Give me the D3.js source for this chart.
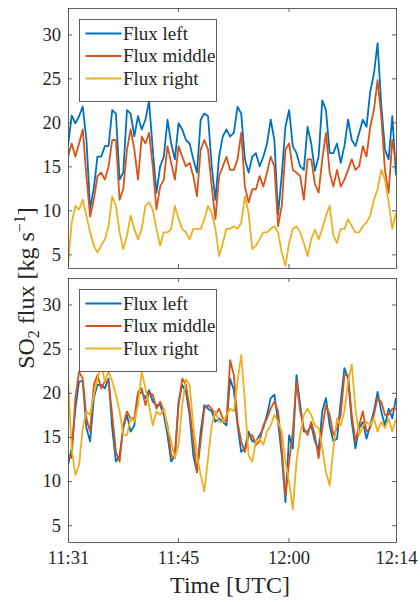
<!DOCTYPE html>
<html>
<head>
<meta charset="utf-8">
<script src="https://cdn.jsdelivr.net/npm/d3@7"></script>
<style>
  body { margin: 0; background: #fff; }
  svg text { font-family: "Liberation Serif", "DejaVu Serif", "Times New Roman", Times, serif !important; fill: #262626; }
</style>
</head>
<body>
<svg width="420" height="602"></svg>
<script>
// sampling of the flux series (one sample every 30 s)
const startTime = "11:30:05";
const stepSeconds = 30;
const tickTimes = ["11:30:05", "11:45:00", "12:00:00", "12:14:35"];
const tickLabels = ["11:31", "11:45", "12:00", "12:14"];
const yTicks = [5, 10, 15, 20, 25, 30];
const seriesNames = ["Flux left", "Flux middle", "Flux right"];
const colors = ["#0072BD", "#D95319", "#EDB120"];

// upper panel [kg/s]
const topLeft = [17.3, 20.8, 19.9, 20.7, 21.8, 18.0, 10.2, 12.5, 16.1, 16.1,
  17.3, 17.3, 21.4, 21.0, 13.5, 14.3, 21.4, 21.0, 18.4, 20.7,
  19.2, 20.3, 22.4, 16.9, 12.0, 15.0, 16.1, 20.3, 17.6, 15.8,
  19.9, 19.2, 18.0, 17.6, 15.8, 14.3, 20.3, 21.0, 20.7, 15.0,
  11.2, 16.1, 18.4, 19.2, 18.4, 18.8, 21.8, 21.0, 15.8, 14.3,
  16.1, 16.5, 15.0, 16.1, 17.6, 20.3, 18.0, 9.5, 14.0, 19.5,
  21.4, 17.3, 16.5, 15.0, 14.6, 19.5, 17.6, 14.5, 16.1, 22.5,
  21.4, 16.5, 16.5, 17.6, 15.4, 17.3, 20.3, 18.0, 17.3, 18.8,
  20.3, 19.5, 23.5, 25.5, 29.0, 22.0, 16.9, 15.8, 20.7, 14.0];
const topMiddle = [16.1, 17.6, 16.1, 17.6, 19.2, 13.9, 9.3, 11.2, 13.9, 14.3,
  13.5, 15.0, 18.0, 18.0, 11.2, 12.4, 16.9, 19.2, 16.9, 13.5,
  18.4, 17.6, 18.8, 15.0, 10.1, 12.7, 13.5, 17.3, 15.4, 13.5,
  17.3, 16.1, 15.0, 15.4, 13.9, 11.6, 16.9, 18.0, 16.9, 12.7,
  9.0, 13.9, 15.0, 16.1, 14.6, 14.6, 15.8, 18.8, 12.7, 10.9,
  12.4, 12.4, 13.9, 12.7, 14.3, 16.1, 15.0, 8.2, 10.5, 16.9,
  17.6, 14.6, 14.3, 13.9, 11.2, 15.8, 15.8, 13.0, 12.0, 15.8,
  18.8, 14.3, 12.7, 14.6, 12.7, 13.5, 14.6, 15.8, 14.6, 15.0,
  17.3, 16.1, 19.5, 21.4, 24.8, 20.7, 14.6, 12.0, 18.0, 15.4];
const topRight = [3.7, 8.6, 10.5, 10.1, 11.2, 9.4, 7.5, 6.0, 5.2, 6.0,
  6.7, 8.2, 11.6, 10.5, 7.5, 5.6, 7.1, 9.4, 7.9, 6.7,
  7.9, 10.5, 10.9, 10.1, 7.9, 6.0, 7.5, 7.5, 7.9, 10.5,
  9.0, 7.9, 7.5, 6.7, 7.9, 7.9, 7.9, 9.0, 10.5, 9.7,
  7.9, 4.8, 6.3, 7.9, 7.9, 8.2, 7.9, 8.6, 11.6, 9.7,
  5.6, 6.0, 6.7, 7.5, 7.5, 7.9, 8.2, 7.5, 5.2, 3.7,
  6.3, 7.9, 8.2, 7.5, 6.3, 4.8, 6.7, 7.8, 6.7, 7.9,
  9.4, 10.5, 7.1, 6.3, 7.9, 7.9, 9.0, 8.2, 7.5, 7.5,
  8.2, 8.6, 9.4, 11.2, 12.4, 14.6, 13.5, 10.9, 7.9, 9.7];

// lower panel [kg/s]
const bottomLeft = [11.8, 13.7, 18.2, 21.3, 21.3, 16.0, 14.5, 19.4, 20.9, 20.9,
  20.5, 21.6, 16.0, 12.2, 12.9, 16.0, 17.5, 15.6, 16.3, 19.8,
  20.1, 19.4, 20.3, 19.0, 18.6, 18.6, 17.5, 15.2, 12.2, 12.9,
  19.0, 20.9, 20.1, 17.5, 12.9, 11.0, 15.6, 18.6, 18.2, 17.9,
  16.7, 17.1, 16.7, 16.3, 21.6, 20.3, 16.3, 13.3, 13.7, 15.6,
  14.5, 14.5, 15.2, 16.0, 17.5, 19.4, 19.8, 16.7, 12.9, 7.6,
  15.2, 13.7, 22.0, 18.6, 15.6, 15.6, 16.3, 14.5, 13.5, 17.9,
  19.4, 16.3, 14.5, 14.8, 19.0, 22.8, 21.6, 16.7, 13.7, 16.0,
  16.7, 14.8, 16.3, 17.9, 20.1, 17.9, 16.3, 18.2, 17.1, 19.4];
const bottomMiddle = [12.9, 12.6, 19.4, 22.4, 21.6, 17.1, 15.6, 20.9, 22.0, 20.5,
  21.3, 21.3, 17.5, 13.3, 12.2, 16.3, 17.9, 17.1, 17.1, 20.1,
  20.5, 18.6, 20.0, 19.8, 18.2, 19.0, 17.9, 16.3, 12.9, 12.6,
  18.6, 21.6, 20.9, 18.2, 14.5, 11.0, 14.5, 18.2, 18.6, 18.2,
  17.5, 18.2, 17.1, 16.7, 23.7, 22.0, 16.7, 14.5, 13.3, 15.2,
  15.2, 14.1, 14.5, 16.3, 17.1, 18.2, 19.0, 17.9, 13.7, 8.3,
  12.2, 15.6, 21.3, 17.9, 16.0, 15.2, 16.7, 15.2, 12.6, 16.0,
  18.6, 17.5, 15.2, 16.0, 17.5, 22.0, 22.0, 17.5, 14.5, 16.3,
  17.9, 15.6, 16.0, 17.5, 19.4, 19.0, 17.5, 17.5, 18.2, 18.2];
const bottomRight = [21.6, 13.7, 10.7, 11.8, 16.0, 17.9, 17.5, 19.8, 21.6, 23.2,
  21.3, 22.4, 21.3, 19.8, 17.9, 15.2, 15.2, 17.1, 16.7, 18.6,
  22.4, 20.5, 18.5, 16.3, 17.9, 17.5, 18.2, 16.0, 14.5, 12.6,
  14.1, 18.6, 21.5, 20.9, 16.3, 12.9, 10.7, 8.8, 12.6, 16.3,
  17.9, 16.7, 16.7, 17.5, 18.2, 17.9, 21.3, 24.3, 19.0, 12.9,
  12.2, 14.5, 14.8, 14.1, 15.6, 16.3, 17.5, 16.7, 15.6, 12.2,
  9.9, 6.8, 12.2, 15.2, 17.5, 18.2, 17.5, 16.3, 16.0, 13.7,
  11.0, 9.5, 13.7, 17.1, 16.3, 17.9, 21.3, 23.2, 18.2, 15.2,
  16.3, 16.7, 16.3, 17.1, 15.6, 16.7, 16.0, 17.1, 15.6, 17.1];

const svg = d3.select("svg");
const parseTime = d3.timeParse("%H:%M:%S");
const t0 = parseTime(startTime);
const times = topLeft.map((d, i) => new Date(t0.getTime() + i * stepSeconds * 1000));

const left = 68, right = 396;
const panels = [
  { top: 8, bottom: 268, yMin: 3.45, series: [topLeft, topMiddle, topRight], legendY: 19, showX: false },
  { top: 278, bottom: 542, yMin: 3.1, series: [bottomLeft, bottomMiddle, bottomRight], legendY: 289, showX: true }
];

const xscale = d3.scaleTime()
  .domain([parseTime(tickTimes[0]), parseTime(tickTimes[3])])
  .range([left, right]);
const xTickVals = tickTimes.map(parseTime);

const axisColor = "#4d4d4d";
const serif = "Liberation Serif, DejaVu Serif, serif";

panels.forEach(function (p, pi) {
  const yscale = d3.scaleLinear().domain([p.yMin, 33]).range([p.bottom, p.top]);
  const g = svg.append("g");

  g.append("clipPath").attr("id", "clip" + pi)
    .append("rect")
    .attr("x", left).attr("y", p.top)
    .attr("width", right - left).attr("height", p.bottom - p.top);

  // lines
  const line = d3.line()
    .x((d, i) => xscale(times[i]))
    .y(d => yscale(d));
  p.series.forEach(function (s, si) {
    g.append("path")
      .datum(s)
      .attr("clip-path", "url(#clip" + pi + ")")
      .attr("fill", "none")
      .attr("stroke", colors[si])
      .attr("stroke-width", 1.8)
      .attr("stroke-linejoin", "round")
      .attr("d", line);
  });

  // box axes, ticks pointing inward
  const yLeft = d3.axisLeft(yscale).tickValues(yTicks).tickSizeInner(-4).tickSizeOuter(0).tickPadding(7);
  const yRight = d3.axisRight(yscale).tickValues(yTicks).tickSizeInner(-4).tickSizeOuter(0).tickFormat("");
  const xTop = d3.axisTop(xscale).tickValues(xTickVals).tickSizeInner(-4).tickSizeOuter(0).tickFormat("");
  const xBottom = d3.axisBottom(xscale).tickValues(xTickVals).tickSizeInner(-4).tickSizeOuter(0).tickPadding(9)
    .tickFormat((d, i) => p.showX ? tickLabels[i] : "");

  const axes = [
    g.append("g").attr("transform", "translate(" + left + ",0)").call(yLeft),
    g.append("g").attr("transform", "translate(" + right + ",0)").call(yRight),
    g.append("g").attr("transform", "translate(0," + p.top + ")").call(xTop),
    g.append("g").attr("transform", "translate(0," + p.bottom + ")").call(xBottom)
  ];
  axes.forEach(function (a) {
    a.attr("font-family", serif);
    a.selectAll("path, line").attr("stroke", axisColor).attr("stroke-width", 0.9);
    a.selectAll("text")
      .attr("font-family", serif)
      .attr("font-size", 18.5)
      .attr("fill", "#262626");
  });

  // legend
  const lg = g.append("g").attr("transform", "translate(79.5," + (p.legendY + 0.5) + ")");
  lg.append("rect")
    .attr("width", 137).attr("height", 82)
    .attr("fill", "#fff").attr("stroke", axisColor).attr("stroke-width", 0.9);
  seriesNames.forEach(function (name, si) {
    const ly = 14 + si * 22.5;
    lg.append("line")
      .attr("x1", 6).attr("x2", 42).attr("y1", ly).attr("y2", ly)
      .attr("stroke", colors[si]).attr("stroke-width", 1.8);
    lg.append("text")
      .attr("x", 43.5).attr("y", ly).attr("dy", "0.33em")
      .attr("font-family", serif)
      .attr("font-size", 19)
      .text(name);
  });
});

// axis labels
svg.append("text")
  .attr("x", 230).attr("y", 593)
  .attr("text-anchor", "middle")
  .attr("font-family", serif)
  .attr("font-size", 24)
  .text("Time [UTC]");

const yl = svg.append("text")
  .attr("transform", "translate(34,288) rotate(-90)")
  .attr("text-anchor", "middle")
  .attr("font-family", serif)
  .attr("font-size", 24);
yl.append("tspan").text("SO");
yl.append("tspan").attr("font-size", 16).attr("dy", 5).text("2");
yl.append("tspan").attr("dy", -5).text(" flux [kg s");
yl.append("tspan").attr("font-size", 16).attr("dy", -9).text("\u22121");
yl.append("tspan").attr("dy", 9).text("]");
</script>
</body>
</html>
